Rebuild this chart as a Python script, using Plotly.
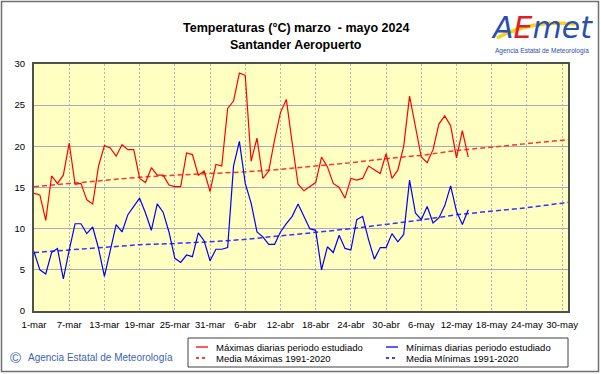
import pandas as pd
import plotly.graph_objects as go

# ---------------- data ----------------
start_date = "2024-03-01"
n_days_obs = 75
max_diarias = [14.3, 14.1, 11.0, 16.4, 15.5, 16.5, 20.4, 15.4, 15.5, 13.5,
               13.0, 17.6, 20.1, 19.8, 18.8, 20.2, 19.6, 19.6, 16.1, 15.6,
               17.4, 16.5, 16.5, 15.3, 15.1, 15.1, 19.2, 19.0, 16.5, 17.0,
               14.5, 17.8, 17.6, 24.6, 25.5, 28.9, 28.6, 18.2, 21.0, 16.1,
               17.0, 20.8, 24.1, 25.7, 20.4, 15.4, 14.6, 15.1, 15.6, 18.7,
               17.5, 15.5, 15.0, 13.7, 16.1, 15.9, 16.1, 17.6, 17.1, 16.7,
               19.1, 16.1, 17.1, 20.0, 26.1, 22.4, 18.7, 18.0, 19.6, 22.7,
               23.7, 22.5, 18.6, 21.9, 18.7]
min_diarias = [7.2, 5.0, 4.5, 7.1, 7.6, 3.9, 7.4, 10.6, 10.6, 9.4,
               10.2, 7.6, 4.2, 7.2, 10.5, 9.6, 11.7, 12.7, 13.7, 11.9,
               9.8, 13.0, 12.0, 9.6, 6.4, 5.9, 6.8, 6.6, 9.5, 8.5,
               6.1, 7.5, 7.5, 7.7, 17.6, 20.6, 15.5, 13.1, 9.6, 9.0,
               8.1, 8.1, 9.6, 10.6, 11.5, 13.0, 11.5, 10.0, 9.8, 5.0,
               7.8, 7.1, 9.2, 7.6, 7.4, 11.1, 11.5, 8.7, 6.3, 7.7,
               7.7, 9.4, 8.4, 9.3, 15.9, 11.9, 11.1, 12.7, 10.7, 11.3,
               12.8, 15.2, 12.1, 10.5, 12.3]
# climatological normals (1991-2020), read at these dates
normal_dates = ["2024-03-01", "2024-03-07", "2024-03-13", "2024-03-19", "2024-03-25",
                "2024-03-31", "2024-04-06", "2024-04-12", "2024-04-18", "2024-04-24",
                "2024-04-30", "2024-05-06", "2024-05-12", "2024-05-18", "2024-05-24",
                "2024-05-30", "2024-05-31"]
media_max = [15.1, 15.5, 15.9, 16.25, 16.5, 16.7, 16.9, 17.2, 17.6, 18.0,
             18.5, 18.9, 19.5, 19.9, 20.3, 20.7, 20.8]
media_min = [7.1, 7.4, 7.75, 8.05, 8.2, 8.4, 8.7, 9.1, 9.55, 10.0,
             10.5, 11.05, 11.7, 12.15, 12.55, 13.1, 13.2]
tick_dates = ["2024-03-01", "2024-03-07", "2024-03-13", "2024-03-19", "2024-03-25",
              "2024-03-31", "2024-04-06", "2024-04-12", "2024-04-18", "2024-04-24",
              "2024-04-30", "2024-05-06", "2024-05-12", "2024-05-18", "2024-05-24",
              "2024-05-30"]
tick_labels = ["1-mar", "7-mar", "13-mar", "19-mar", "25-mar", "31-mar", "6-abr",
               "12-abr", "18-abr", "24-abr", "30-abr", "6-may", "12-may", "18-may",
               "24-may", "30-may"]
y_ticks = [0, 5, 10, 15, 20, 25, 30]

obs_dates = pd.date_range(start_date, periods=n_days_obs, freq="D")

# ---------------- layout helpers ----------------
W, H = 601, 374
ML, MR, MT, MB = 34, 33, 64, 63
PW, PH = W - ML - MR, H - MT - MB


def px(x):
    return (x - ML) / PW


def py(y):
    return (H - MB - y) / PH


FONT = "Liberation Sans, Arial, sans-serif"
RED = "#FF0000"
BLUE = "#0000FF"

fig = go.Figure()
fig.add_trace(go.Scatter(x=normal_dates, y=media_max, mode="lines",
                         line=dict(color="#FF3333", width=1.5, dash="5px,3px"),
                         name="Media Máximas 1991-2020", showlegend=False, hoverinfo="skip"))
fig.add_trace(go.Scatter(x=normal_dates, y=media_min, mode="lines",
                         line=dict(color="#3333FF", width=1.5, dash="5px,3px"),
                         name="Media Mínimas 1991-2020", showlegend=False, hoverinfo="skip"))
fig.add_trace(go.Scatter(x=obs_dates, y=max_diarias, mode="lines",
                         line=dict(color=RED, width=1.2),
                         name="Máximas diarias periodo estudiado", showlegend=False))
fig.add_trace(go.Scatter(x=obs_dates, y=min_diarias, mode="lines",
                         line=dict(color=BLUE, width=1.2),
                         name="Mínimas diarias periodo estudiado", showlegend=False))

fig.update_layout(
    width=W, height=H,
    margin=dict(l=ML, r=MR, t=MT, b=MB),
    paper_bgcolor="white",
    plot_bgcolor="#FFFFC2",
    font=dict(family=FONT, size=9, color="black"),
    showlegend=False,
)
fig.update_xaxes(
    type="date", range=["2024-03-01", "2024-05-31"],
    tickmode="array", tickvals=tick_dates, ticktext=tick_labels,
    showgrid=True, gridcolor="#B4B4B4", gridwidth=1, griddash="2px,2px",
    showline=True, linecolor="#4A524A", linewidth=2, mirror=True,
    ticks="", ticklabelstandoff=4, tickfont=dict(size=9.5),
    zeroline=False,
)
fig.update_yaxes(
    range=[0, 30], tickmode="array", tickvals=y_ticks,
    showgrid=True, gridcolor="#A8A8C0", gridwidth=1,
    showline=True, linecolor="#4A524A", linewidth=2, mirror=True,
    ticks="", ticklabelstandoff=5, tickfont=dict(size=9.5),
    zeroline=False,
)

shapes = []
annotations = []

# outer frame
shapes.append(dict(type="rect", xref="paper", yref="paper",
                   x0=px(1.5), x1=px(598.5), y0=py(371.5), y1=py(1.5),
                   line=dict(color="#707070", width=1.5), layer="below"))

# titles
annotations.append(dict(text="<b>Temperaturas (°C) marzo  - mayo 2024</b>",
                        xref="paper", yref="paper", x=px(296), y=py(28),
                        xanchor="center", yanchor="middle",
                        showarrow=False, font=dict(size=12.5, family=FONT, color="black")))
annotations.append(dict(text="<b>Santander Aeropuerto</b>",
                        xref="paper", yref="paper", x=px(296), y=py(45),
                        xanchor="center", yanchor="middle",
                        showarrow=False, font=dict(size=12.5, family=FONT, color="black")))

# logo (text)
shapes.append(dict(type="path", xref="paper", yref="paper",
                   path=f"M {px(497)},{py(38)} Q {px(530)},{py(20)} {px(575)},{py(24)}",
                   line=dict(color="#F2D21A", width=3.5)))
annotations.append(dict(
    text="<i><span style='color:#2A4FB0'>A</span><span style='color:#E02020'>E</span>"
         "<span style='color:#2A4FB0'>met</span></i>",
    xref="paper", yref="paper", x=px(542), y=py(27), xanchor="center", yanchor="middle",
    showarrow=False, font=dict(size=30, family="DejaVu Sans, sans-serif")))
annotations.append(dict(text="Agencia Estatal de Meteorología",
                        xref="paper", yref="paper", x=px(542), y=py(51),
                        xanchor="center", yanchor="middle", showarrow=False,
                        font=dict(size=6.5, family=FONT, color="#2A4FB0")))

# legend (drawn box)
lx0, lx1, ly0, ly1 = 188, 568, 338, 367
shapes.append(dict(type="rect", xref="paper", yref="paper",
                   x0=px(lx0), x1=px(lx1), y0=py(ly1), y1=py(ly0),
                   line=dict(color="#404040", width=1), fillcolor="white"))
legend_items = [
    ("Máximas diarias periodo estudiado", RED, "solid", 196, 347),
    ("Mínimas diarias periodo estudiado", BLUE, "solid", 386, 347),
    ("Media Máximas 1991-2020", RED, "3px,3px", 196, 358),
    ("Media Mínimas 1991-2020", BLUE, "3px,3px", 386, 358),
]
for text, col, dash, x, y in legend_items:
    shapes.append(dict(type="line", xref="paper", yref="paper",
                       x0=px(x), x1=px(x + 12), y0=py(y), y1=py(y),
                       line=dict(color=col, width=1.3, dash=dash)))
    annotations.append(dict(text=text, xref="paper", yref="paper",
                            x=px(x + 18), y=py(y), xanchor="left", yanchor="middle",
                            showarrow=False, font=dict(size=9.5, family=FONT, color="black")))

# copyright
annotations.append(dict(text="©", xref="paper", yref="paper", x=px(15), y=py(357),
                        xanchor="center", yanchor="middle",
                        showarrow=False, font=dict(size=15, family=FONT, color="#3A64B0")))
annotations.append(dict(text="Agencia Estatal de Meteorología", xref="paper", yref="paper",
                        x=px(26), y=py(357), xanchor="left", yanchor="middle",
                        showarrow=False, font=dict(size=10, family=FONT, color="#3A64B0")))

fig.update_layout(shapes=shapes, annotations=annotations)
fig.write_html("out.html", config={"displayModeBar": False},
               post_script="document.body.style.margin='0px';")
